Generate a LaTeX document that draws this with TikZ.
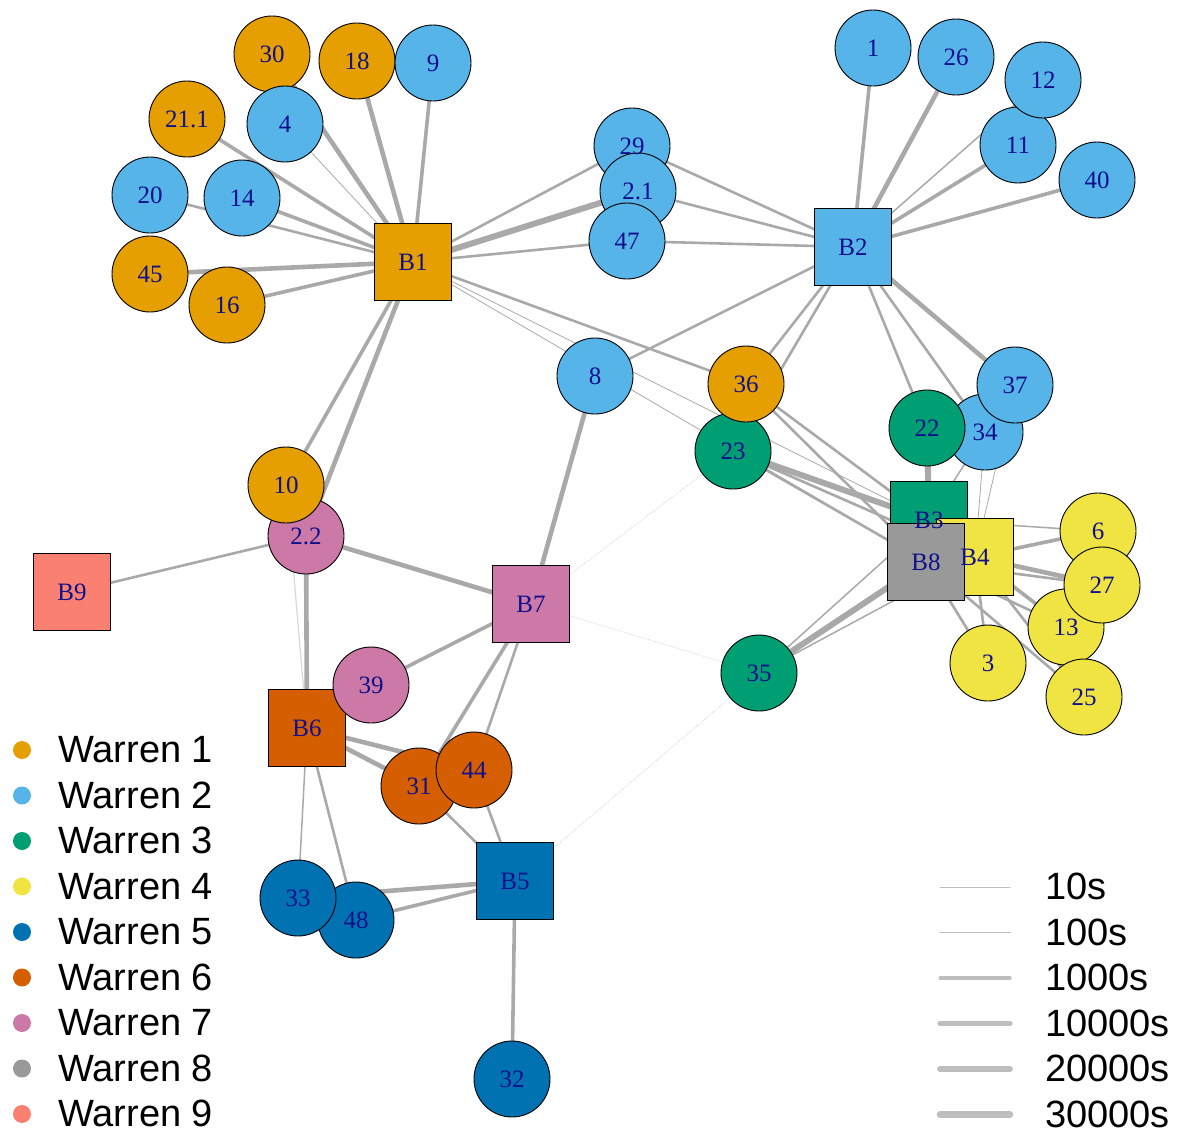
\documentclass[tikz,border=0pt]{standalone}
\usepackage{fontspec}
\setmainfont{Liberation Serif}
\setsansfont{Liberation Sans}
\usetikzlibrary{backgrounds}
\definecolor{wa}{HTML}{E69F00}
\definecolor{wb}{HTML}{56B4E9}
\definecolor{wc}{HTML}{009E73}
\definecolor{wd}{HTML}{F0E442}
\definecolor{we}{HTML}{0072B2}
\definecolor{wf}{HTML}{D55E00}
\definecolor{wg}{HTML}{CC79A7}
\definecolor{wh}{HTML}{999999}
\definecolor{wi}{HTML}{FA8072}
\definecolor{edgecol}{HTML}{A9A9A9}
\definecolor{faintcol}{HTML}{D8D8D8}
\definecolor{legcol}{HTML}{BEBEBE}
\definecolor{lblcol}{HTML}{10108C}
\tikzset{
  vtx/.style={circle, draw=black, line width=0.9pt, minimum size=76pt, inner sep=0pt},
  sqbox/.style={rectangle, draw=black, line width=0.9pt, minimum size=77pt, inner sep=0pt},
  lbl/.style={font=\fontsize{25}{25}\selectfont, text=lblcol, inner sep=0pt},
  ed/.style={draw=edgecol},
  ea/.style={ed, line width=0.8pt},
  eb/.style={ed, line width=1.5pt},
  ec/.style={ed, line width=2.6pt},
  edd/.style={ed, line width=3.6pt},
  ee/.style={ed, line width=4.6pt},
  ef/.style={ed, line width=6pt},
  efaint/.style={draw=faintcol, line width=0.8pt, densely dotted},
  legdot/.style={circle, minimum size=18pt, inner sep=0pt},
  legtxt/.style={font=\sffamily\fontsize{38}{38}\selectfont, anchor=base west, inner sep=0pt},
  legline/.style={draw=legcol, line cap=round},
}
\begin{document}
\begin{tikzpicture}[x=1pt,y=-1pt]
\useasboundingbox (0,0) rectangle (1185,1133);

% ---- vertices (drawing order controls overlaps)
\node[vtx, fill=wa] (n30) at (272,54) {};
\node[vtx, fill=wb] (n4) at (285,124) {};
\node[vtx, fill=wa] (n18) at (357,61) {};
\node[vtx, fill=wb] (n9) at (433,63) {};
\node[vtx, fill=wa] (n21a) at (187,119) {};
\node[vtx, fill=wb] (n20) at (150,195) {};
\node[vtx, fill=wb] (n14) at (242,198) {};
\node[vtx, fill=wa] (n45) at (150,274) {};
\node[vtx, fill=wa] (n16) at (227,305) {};
\node[sqbox, fill=wa] (B1) at (413,262) {};
\node[vtx, fill=wb] (n29) at (632,146) {};
\node[vtx, fill=wb] (n2a) at (638,191) {};
\node[vtx, fill=wb] (n47) at (627,241) {};
\node[vtx, fill=wb] (n1) at (873,48) {};
\node[vtx, fill=wb] (n26) at (956,57) {};
\node[vtx, fill=wb] (n11) at (1018,145) {};
\node[vtx, fill=wb] (n12) at (1043,80) {};
\node[vtx, fill=wb] (n40) at (1097,180) {};
\node[sqbox, fill=wb] (B2) at (853,247) {};
\node[vtx, fill=wb] (n8) at (595,376) {};
\node[vtx, fill=wc] (n23) at (733,451) {};
\node[vtx, fill=wa] (n36) at (746,384) {};
\node[vtx, fill=wb] (n34) at (985,432) {};
\node[vtx, fill=wc] (n22) at (927,428) {};
\node[vtx, fill=wb] (n37) at (1015,385) {};
\node[sqbox, fill=wc] (B3) at (929,520) {};
\node[sqbox, fill=wd] (B4) at (975,557) {};
\node[sqbox, fill=wh] (B8) at (926,562) {};
\node[vtx, fill=wd] (n6) at (1098,531) {};
\node[vtx, fill=wd] (n13) at (1066,627) {};
\node[vtx, fill=wd] (n27) at (1102,585) {};
\node[vtx, fill=wd] (n3) at (988,663) {};
\node[vtx, fill=wd] (n25) at (1084,697) {};
\node[vtx, fill=wc] (n35) at (759,673) {};
\node[vtx, fill=wg] (n2b) at (306,536) {};
\node[vtx, fill=wa] (n10) at (286,485) {};
\node[sqbox, fill=wi] (B9) at (72,592) {};
\node[sqbox, fill=wg] (B7) at (531,604) {};
\node[sqbox, fill=wf] (B6) at (307,728) {};
\node[vtx, fill=wg] (n39) at (371,685) {};
\node[vtx, fill=wf] (n31) at (419,786) {};
\node[vtx, fill=wf] (n44) at (474,770) {};
\node[sqbox, fill=we] (B5) at (515,881) {};
\node[vtx, fill=we] (n48) at (356,920) {};
\node[vtx, fill=we] (n33) at (298,898) {};
\node[vtx, fill=we] (n32) at (512,1079) {};

% ---- labels on top
\foreach \n/\t in {n30/30,n4/4,n18/18,n9/9,n21a/21.1,n20/20,n14/14,n45/45,n16/16,B1/B1,
  n29/29,n2a/2.1,n47/47,n1/1,n26/26,n11/11,n12/12,n40/40,B2/B2,n8/8,n23/23,n36/36,
  n34/34,n22/22,n37/37,B3/B3,B4/B4,B8/B8,n6/6,n13/13,n27/27,n3/3,n25/25,n35/35,
  n2b/2.2,n10/10,B9/B9,B7/B7,B6/B6,n39/39,n31/31,n44/44,B5/B5,n48/48,n33/33,n32/32}
  \node[lbl] (t\n) at (\n.center) {\t};

% ---- edges behind
\begin{pgfonlayer}{background}
% B1
\draw[ee] (B1.center) -- (n30.center);
\draw[ea] (B1.center) -- (n4.center);
\draw[ee] (B1.center) -- (n18.center);
\draw[edd] (B1.center) -- (n9.center);
\draw[edd] (B1.center) -- (n21a.center);
\draw[edd] (B1.center) -- (n14.center);
\draw[ec] (B1.center) -- (n20.center);
\draw[ee] (B1.center) -- (n45.center);
\draw[edd] (B1.center) -- (n16.center);
\draw[ec] (B1.center) -- (n29.center);
\draw[ef] (B1.center) -- (n2a.center);
\draw[ec] (B1.center) -- (n47.center);
\draw[ec] (B1.center) -- (n36.center);
\draw[ea] (B1.center) -- (B8.center);
\draw[ea] (B1.center) -- (B3.center);
\draw[edd] (B1.center) -- (n10.center);
\draw[ee] (B1.center) -- (n2b.center);
% B2
\draw[edd] (B2.center) -- (n1.center);
\draw[ee] (B2.center) -- (n26.center);
\draw[eb] (B2.center) -- (n12.center);
\draw[edd] (B2.center) -- (n11.center);
\draw[edd] (B2.center) -- (n40.center);
\draw[ec] (B2.center) -- (n29.center);
\draw[ec] (B2.center) -- (n2a.center);
\draw[ec] (B2.center) -- (n47.center);
\draw[ec] (B2.center) -- (n8.center);
\draw[ec] (B2.center) -- (n36.center);
\draw[ec] (B2.center) -- (n23.center);
\draw[ec] (B2.center) -- (n22.center);
\draw[ec] (B2.center) -- (n34.center);
\draw[ee] (B2.center) -- (n37.center);
% B3 / B4 / B8 cluster
\draw[ef] (n23.center) -- (B3.center);
\draw[ec] (n23.center) -- (B8.center);
\draw[ec] (n23.center) -- (B4.center);
\draw[ec] (n36.center) -- (B3.center);
\draw[ec] (n36.center) -- (B8.center);
\draw[ef] (n22.center) -- (B3.center);
\draw[eb] (n34.center) -- (B3.center);
\draw[ea] (n34.center) -- (B4.center);
\draw[ea] (n37.center) -- (B4.center);
\draw[ef] (n35.center) -- (B8.center);
\draw[eb] (n35.center) -- (B3.center);
\draw[eb] (n35.center) -- (B4.center);
\draw[edd] (n6.center) -- (B4.center);
\draw[eb] (n6.center) -- (B3.center);
\draw[ee] (n27.center) -- (B4.center);
\draw[ec] (n27.center) -- (B8.center);
\draw[edd] (n13.center) -- (B4.center);
\draw[ec] (n13.center) -- (B8.center);
\draw[ec] (n3.center) -- (B8.center);
\draw[ec] (n3.center) -- (B4.center);
\draw[ec] (n25.center) -- (B4.center);
\draw[ec] (n25.center) -- (B8.center);
% B7
\draw[ee] (B7.center) -- (n2b.center);
\draw[ee] (B7.center) -- (n8.center);
\draw[edd] (B7.center) -- (n39.center);
\draw[edd] (B7.center) -- (n31.center);
\draw[ec] (B7.center) -- (n44.center);
\draw[efaint] (B7.center) -- (n23.center);
\draw[efaint] (B7.center) -- (n35.center);
% B9
\draw[ec] (B9.center) -- (n2b.center);
% B6
\draw[ee] (B6.center) -- (n2b.center);
\draw[draw=faintcol, line width=1.2pt] (B6.center) -- (n10.center);
\draw[ee] (B6.center) -- (n31.center);
\draw[ee] (B6.center) -- (n44.center);
\draw[eb] (B6.center) -- (n33.center);
\draw[ec] (B6.center) -- (n48.center);
% B5
\draw[ec] (B5.center) -- (n31.center);
\draw[ec] (B5.center) -- (n44.center);
\draw[ee] (B5.center) -- (n33.center);
\draw[edd] (B5.center) -- (n48.center);
\draw[edd] (B5.center) -- (n32.center);
\draw[efaint] (B5.center) -- (n35.center);
\end{pgfonlayer}

% ---- legend (warrens)
\foreach \i/\c in {1/wa,2/wb,3/wc,4/wd,5/we,6/wf,7/wg,8/wh,9/wi}{
  \node[legdot, fill=\c] (d\i) at (22,{750+(\i-1)*45.5}) {};
  \node[legtxt] (w\i) at (58,{750+(\i-1)*45.5+12.5}) {Warren \i};
}
% ---- legend (edge weights)
\foreach \i/\w/\t in {1/1/10s,2/1.6/100s,3/3.2/1000s,4/5.2/10000s,5/5.8/20000s,6/6.4/30000s}{
  \draw[legline, line width=\w pt] (940,{887+(\i-1)*45.5}) -- (1010,{887+(\i-1)*45.5});
  \node[legtxt] (s\i) at (1045,{887+(\i-1)*45.5+12.5}) {\t};
}
\end{tikzpicture}
\end{document}
